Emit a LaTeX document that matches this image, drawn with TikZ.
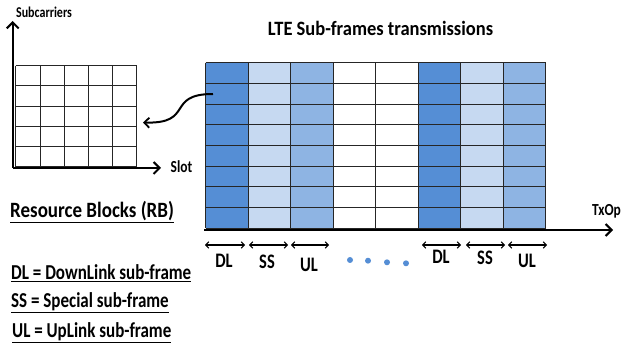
\documentclass[tikz,border=0pt]{standalone}
\usepackage{fontspec}
\usepackage{graphicx}
\setmainfont{Carlito}
\usetikzlibrary{arrows.meta}
\definecolor{dlc}{HTML}{558ED5}
\definecolor{ssc}{HTML}{C6D9F1}
\definecolor{ulc}{HTML}{8EB4E3}
\newcommand\tallTxt[2][1.25]{\scalebox{1}[#1]{#2}}
\tikzset{
  lbl/.style={font=\bfseries\fontsize{16.5}{18}\selectfont, inner sep=0pt},
  leg/.style={font=\bfseries\fontsize{17}{19}\selectfont, inner sep=0pt, anchor=west},
  axisarrow/.style={line width=2.4pt, -{Straight Barb[length=6pt,width=12pt,line width=2pt]}},
  span/.style={line width=1.1pt, {Straight Barb[length=3pt,width=6.5pt]}-{Straight Barb[length=3pt,width=6.5pt]}},
  gridline/.style={line width=0.8pt, draw=black!85},
  dotc/.style={circle, fill=dlc, inner sep=0pt, minimum size=6pt},
}
\begin{document}
\begin{tikzpicture}[x=1pt,y=-1pt]
\useasboundingbox (0,0) rectangle (624,347);
% ---------- small resource-block grid ----------
\foreach \i in {0,...,5} {
  \draw[gridline] ({15.7+\i*24.2},65.7) -- ({15.7+\i*24.2},166.7);
  \draw[gridline] (15.7,{65.7+\i*20.2}) -- (136.7,{65.7+\i*20.2});
}
\coordinate (o) at (12.7,168);
\coordinate (ytop) at (12.7,21);
\coordinate (xend) at (161,168);
\draw[axisarrow] (o) -- (ytop);
\draw[axisarrow] (o) -- (xend);
\node[font=\bfseries\fontsize{12}{14}\selectfont, inner sep=0pt] (sub) at (44,12) {\tallTxt{Subcarriers}};
\node[font=\bfseries\fontsize{13.5}{15}\selectfont, inner sep=0pt] (slot) at (181.5,167) {\tallTxt{Slot}};
% ---------- main LTE grid ----------
\foreach \c/\col in {0/dlc,1/ssc,2/ulc,3/white,4/white,5/dlc,6/ssc,7/ulc} {
  \fill[\col] ({205.5+\c*42.5},62.7) rectangle ({205.5+(\c+1)*42.5},228.3);
}
\foreach \i in {0,...,8} {
  \draw[gridline] ({205.5+\i*42.5},62.7) -- ({205.5+\i*42.5},228.3);
  \draw[gridline] (205.5,{62.7+\i*20.7}) -- (545.5,{62.7+\i*20.7});
}
\node[font=\bfseries\fontsize{18.5}{20}\selectfont, inner sep=0pt] (title) at (380.5,28) {\tallTxt[1.1]{LTE Sub-frames transmissions}};
% time axis
\coordinate (t0) at (204,230);
\coordinate (t1) at (613,230);
\draw[axisarrow] (t0) -- (t1);
\node[font=\bfseries\fontsize{13.5}{15}\selectfont, inner sep=0pt] (txop) at (606.5,211) {\tallTxt{TxOp}};
% curved arrow from an RB to the zoomed grid
\coordinate (rbsrc) at (213,94);
\coordinate (rbdst) at (143,122.5);
\draw[line width=2pt, -{Straight Barb[length=5pt,width=10pt,line width=1.8pt]}] (rbsrc) .. controls (165,94) and (195,124) .. (rbdst);
% sub-frame spans
\foreach \a/\b in {205/245,249/288,291/329,422/461,466/505,508/547} {
  \draw[span] (\a,245) -- (\b,245);
}
\node[lbl] (dl1) at (224,261) {\tallTxt{DL}};
\node[lbl] (ss1) at (267,262) {\tallTxt{SS}};
\node[lbl] (ul1) at (309,265) {\tallTxt{UL}};
\node[lbl] (dl2) at (441,257) {\tallTxt{DL}};
\node[lbl] (ss2) at (485,258) {\tallTxt{SS}};
\node[lbl] (ul2) at (527,261) {\tallTxt{UL}};
\node[dotc] (d1) at (350,260) {};
\node[dotc] (d2) at (368,260.7) {};
\node[dotc] (d3) at (387,262.3) {};
\node[dotc] (d4) at (406,263.3) {};
% legend
\node[leg, font=\bfseries\fontsize{19}{21}\selectfont] (rb) at (10,212) {\tallTxt[1.15]{\underline{Resource Blocks (RB)}}};
\node[leg] (ldl) at (11,273) {\tallTxt{\underline{DL = DownLink sub-frame}}};
\node[leg] (lss) at (11,303) {\tallTxt{\underline{SS = Special sub-frame}}};
\node[leg] (lul) at (12,333) {\tallTxt{\underline{UL = UpLink sub-frame}}};
\end{tikzpicture}
\end{document}
